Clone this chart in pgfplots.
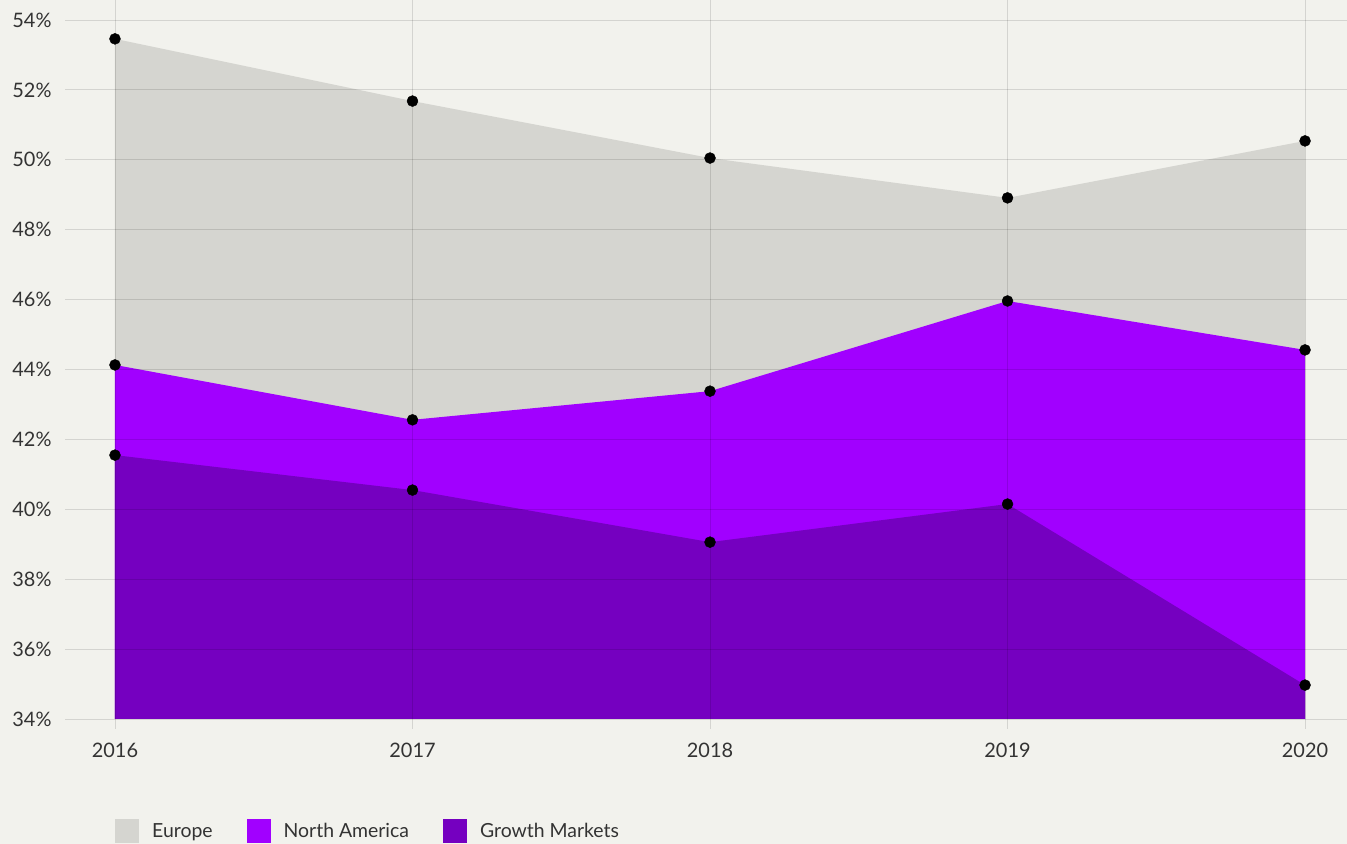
\documentclass[border=0pt]{standalone}
\usepackage{fontspec}
\setmainfont{Lato}
\usepackage{pgfplots}
\pgfplotsset{compat=1.18}
\definecolor{bg}{HTML}{F2F2ED}
\definecolor{eu}{HTML}{D5D5D0}
\definecolor{na}{HTML}{A100FF}
\definecolor{gm}{HTML}{7500C0}
\definecolor{txt}{HTML}{333333}
\begin{document}
\begin{tikzpicture}
\fill[bg] (0,0) rectangle (1347bp,844bp);
\begin{axis}[
  at={(65bp,125bp)}, anchor=south west,
  scale only axis, width=1282bp, height=719bp,
  xmin=2015.832, xmax=2020.141,
  ymin=34, ymax=54.572,
  axis line style={draw=none},
  xtick={2016,2017,2018,2019,2020},
  xticklabels={2016,2017,2018,2019,2020},
  ytick={34,36,...,54},
  yticklabel={\pgfmathprintnumber{\tick}\%},
  grid=major,
  grid style={draw=black, opacity=0.12, line width=0.8bp},
  major tick length=10bp,
  tick align=outside,
  xtick style={draw=black, opacity=0.12, line width=0.8bp},
  ytick style={draw=none},
  tick label style={font=\fontsize{20}{24}\selectfont, text=txt},
  /pgf/number format/assume math mode=true,
  xticklabel style={yshift=-11bp},
  yticklabel style={xshift=0bp},
  axis on top,
  legend columns=3,
  legend style={draw=none, fill=none, inner sep=0pt, anchor=west,
    at={(axis description cs:0.039,-0.1558)},
    font=\fontsize{19.5}{23}\selectfont, text=txt,
    /tikz/every odd column/.append style={column sep=11bp},
    /tikz/every even column/.append style={column sep=32bp}},
  legend image code/.code={\fill[#1,draw=none] (0bp,-12bp) rectangle (24bp,12bp);},
]
\addplot[fill=eu, draw=none, mark=*, mark size=5.5bp, mark options={fill=black, draw=black}] coordinates {
 (2016,53.46) (2017,51.68) (2018,50.05) (2019,48.91) (2020,50.54)} \closedcycle;
\addlegendentry{Europe}
\addplot[fill=na, draw=none, mark=*, mark size=5.5bp, mark options={fill=black, draw=black}] coordinates {
 (2016,44.13) (2017,42.56) (2018,43.38) (2019,45.96) (2020,44.56)} \closedcycle;
\addlegendentry{North America}
\addplot[fill=gm, draw=none, mark=*, mark size=5.5bp, mark options={fill=black, draw=black}] coordinates {
 (2016,41.55) (2017,40.55) (2018,39.06) (2019,40.15) (2020,34.97)} \closedcycle;
\addlegendentry{Growth Markets}
\end{axis}
\pgfresetboundingbox
\useasboundingbox (0,0) rectangle (1347bp,844bp);
\end{tikzpicture}
\end{document}
